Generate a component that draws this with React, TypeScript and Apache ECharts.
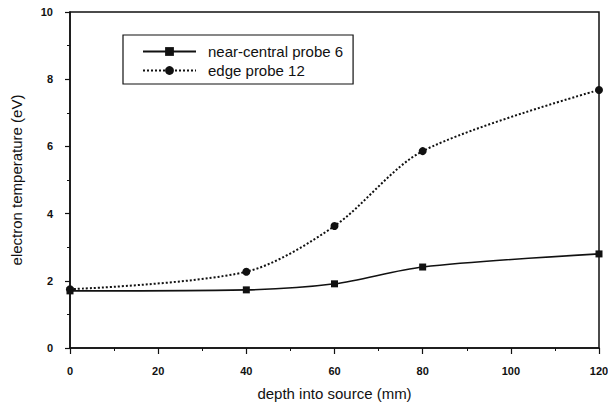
import React, { useEffect, useRef } from "react";
import * as echarts from "echarts";

const depth = [0, 40, 60, 80, 120];
const nearCentral = [1.7, 1.73, 1.91, 2.41, 2.8];
const edgeProbe = [1.75, 2.27, 3.63, 5.86, 7.68];
const seriesNames = ["near-central probe 6", "edge probe 12"];

const FONT = "Liberation Sans, Arial, Helvetica, sans-serif";

export default function App() {
  const ref = useRef<HTMLDivElement>(null);
  useEffect(() => {
    if (!ref.current) return;
    const chart = echarts.init(ref.current, undefined, { renderer: "svg" });
    chart.setOption({
      animation: false,
      backgroundColor: "#ffffff",
      grid: {
        left: 70,
        right: 9,
        top: 12,
        bottom: 55,
        outerBoundsMode: "none",
        containLabel: false,
        show: true,
        borderColor: "#111",
        borderWidth: 1.5,
        backgroundColor: "transparent",
      },
      legend: {
        orient: "vertical",
        left: 123,
        top: 35,
        padding: [9, 10, 6, 19],
        itemGap: 4,
        itemWidth: 53,
        itemHeight: 11,
        borderColor: "#111",
        borderWidth: 1.2,
        data: seriesNames,
        textStyle: {
          fontFamily: FONT,
          fontSize: 15,
          color: "#111",
          padding: [0, 0, 0, 7],
        },
      },
      xAxis: {
        type: "value",
        min: 0,
        max: 120,
        interval: 20,
        name: "depth into source (mm)",
        nameLocation: "middle",
        nameGap: 38,
        nameTextStyle: { fontFamily: FONT, fontSize: 15, color: "#111" },
        axisLine: { show: true, onZero: false, lineStyle: { color: "#111", width: 1.5 } },
        axisTick: { show: true, length: 6, lineStyle: { color: "#111", width: 1.2 } },
        minorTick: { show: true, splitNumber: 2, length: 3, lineStyle: { color: "#111", width: 1 } },
        axisLabel: { fontFamily: FONT, fontSize: 11, fontWeight: "bold", color: "#111", margin: 17 },
        splitLine: { show: false },
      },
      yAxis: {
        type: "value",
        min: 0,
        max: 10,
        interval: 2,
        name: "electron temperature (eV)",
        nameLocation: "middle",
        nameGap: 46,
        nameTextStyle: { fontFamily: FONT, fontSize: 15, color: "#111" },
        axisLine: { show: true, onZero: false, lineStyle: { color: "#111", width: 1.5 } },
        axisTick: { show: true, length: 5, lineStyle: { color: "#111", width: 1.2 } },
        minorTick: { show: true, splitNumber: 2, length: 3, lineStyle: { color: "#111", width: 1 } },
        axisLabel: { fontFamily: FONT, fontSize: 11, fontWeight: "bold", color: "#111", margin: 17 },
        splitLine: { show: false },
      },
      series: [
        {
          name: seriesNames[0],
          type: "line",
          data: depth.map((d, i) => [d, nearCentral[i]]),
          smooth: 0.3,
          symbol: "rect",
          symbolSize: 7,
          itemStyle: { color: "#111" },
          lineStyle: { color: "#111", width: 1.6, type: "solid" },
          z: 3,
        },
        {
          name: seriesNames[1],
          type: "line",
          data: depth.map((d, i) => [d, edgeProbe[i]]),
          smooth: 0.3,
          symbol: "circle",
          symbolSize: 8,
          itemStyle: { color: "#111" },
          lineStyle: { color: "#111", width: 2, type: [2, 2] },
          z: 2,
        },
      ],
    });
    return () => chart.dispose();
  }, []);
  return (
    <div
      ref={ref}
      style={{ position: "fixed", left: 0, top: 0, width: 608, height: 403 }}
    />
  );
}
